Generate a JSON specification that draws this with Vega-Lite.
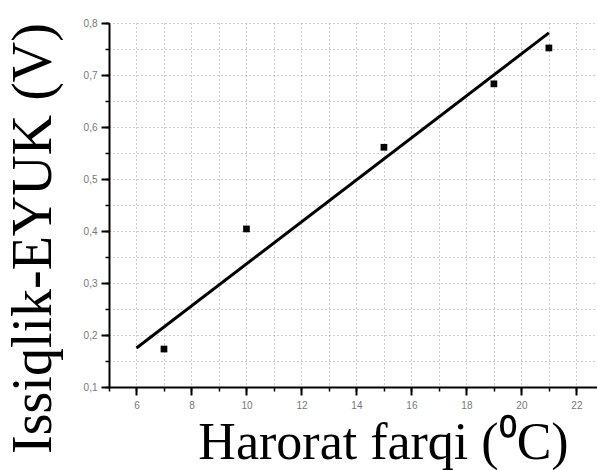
{
  "$schema": "https://vega.github.io/schema/vega-lite/v6.json",
  "width": 488,
  "height": 364,
  "autosize": {"type": "none"},
  "padding": {"left": 109, "top": 23, "right": 0, "bottom": 83},
  "background": "white",
  "config": {"view": {"stroke": null}},
  "datasets": {
    "points": [
      {"dT": 7, "V": 0.173},
      {"dT": 10, "V": 0.404},
      {"dT": 15, "V": 0.561},
      {"dT": 19, "V": 0.683},
      {"dT": 21, "V": 0.752}
    ],
    "fit": [
      {"dT": 6, "V": 0.175},
      {"dT": 21, "V": 0.781}
    ]
  },
  "resolve": {"axis": {"x": "independent", "y": "independent"}},
  "layer": [
    {
      "data": {"name": "points"},
      "mark": {"type": "square", "filled": true, "color": "black", "size": 45, "opacity": 1},
      "encoding": {
        "x": {
          "field": "dT", "type": "quantitative",
          "scale": {"domain": [5, 22.75], "nice": false, "zero": false},
          "axis": {
            "orient": "bottom", "values": [5,6,7,8,9,10,11,12,13,14,15,16,17,18,19,20,21,22],
            "grid": true, "gridDash": [1, 3], "gridColor": "#999", "gridWidth": 1,
            "tickSize": 4, "tickColor": "black", "tickWidth": 1.5,
            "labels": false, "domain": false, "title": null
          }
        },
        "y": {
          "field": "V", "type": "quantitative",
          "scale": {"domain": [0.1, 0.8], "nice": false, "zero": false},
          "axis": {
            "orient": "left", "values": [0.1,0.15,0.2,0.25,0.3,0.35,0.4,0.45,0.5,0.55,0.6,0.65,0.7,0.75,0.8],
            "grid": true, "gridDash": [1, 3], "gridColor": "#999", "gridWidth": 1,
            "tickSize": 4, "tickColor": "black", "tickWidth": 1.5,
            "labels": false, "domain": false, "title": null
          }
        }
      }
    },
    {
      "data": {"name": "fit"},
      "mark": {"type": "line", "color": "black", "strokeWidth": 3},
      "encoding": {
        "x": {
          "field": "dT", "type": "quantitative",
          "axis": {
            "orient": "bottom", "values": [6,8,10,12,14,16,18,20,22],
            "grid": false, "tickSize": 8, "tickColor": "black", "tickWidth": 2,
            "domain": true, "domainColor": "black", "domainWidth": 2,
            "labelFont": "Liberation Sans", "labelFontSize": 10, "labelColor": "#777", "labelPadding": 5,
            "title": "Harorat farqi (⁰C)",
            "titleFont": "Liberation Serif", "titleFontSize": 52, "titleFontWeight": "normal",
            "titleColor": "black", "titleAlign": "center", "titleBaseline": "alphabetic",
            "titleX": 274, "titleY": 71
          }
        },
        "y": {
          "field": "V", "type": "quantitative",
          "axis": {
            "orient": "left", "values": [0.1,0.2,0.3,0.4,0.5,0.6,0.7,0.8],
            "grid": false, "tickSize": 8, "tickColor": "black", "tickWidth": 2,
            "domain": true, "domainColor": "black", "domainWidth": 2,
            "labelExpr": "replace(format(datum.value, '.1f'), '.', ',')",
            "labelFont": "Liberation Sans", "labelFontSize": 10, "labelColor": "#777", "labelPadding": 4,
            "title": "Issiqlik-EYUK (V)",
            "titleFont": "Liberation Serif", "titleFontSize": 56, "titleFontWeight": "normal",
            "titleColor": "black", "titleAlign": "center", "titleBaseline": "alphabetic",
            "titleAngle": -90, "titleX": -59, "titleY": 215
          }
        }
      }
    }
  ]
}
